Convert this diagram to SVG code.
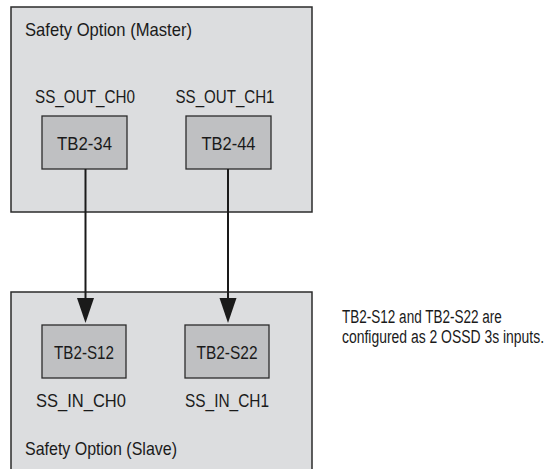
<svg xmlns="http://www.w3.org/2000/svg" width="553" height="469" viewBox="0 0 553 469">
  <style>
    .outer { fill: #dcdddf; stroke: #2b2b2b; stroke-width: 1.5; }
    .inner { fill: #bfc0c2; stroke: #2b2b2b; stroke-width: 1.3; }
    text { font-family: "Liberation Sans Narrow", "Liberation Sans", Arial, sans-serif; font-size: 19px; fill: #1a1a1a; }
    .c { text-anchor: middle; }
    .conn { stroke: #1a1a1a; stroke-width: 2; fill: none; }
    .head { fill: #1a1a1a; }
  </style>

  <g id="master">
    <rect class="outer" x="11" y="7" width="301" height="205"/>
    <text x="25" y="36" textLength="167" lengthAdjust="spacingAndGlyphs">Safety Option (Master)</text>
  </g>
  <g id="slave">
    <rect class="outer" x="11" y="292" width="301" height="190"/>
    <text x="25" y="455" textLength="152" lengthAdjust="spacingAndGlyphs">Safety Option (Slave)</text>
  </g>

  <g id="tb2-34">
    <text class="c" x="85" y="103" textLength="100" lengthAdjust="spacingAndGlyphs">SS_OUT_CH0</text>
    <rect class="inner" x="42" y="116" width="85" height="53"/>
    <text class="c" x="84.5" y="150" textLength="55" lengthAdjust="spacingAndGlyphs">TB2-34</text>
  </g>
  <g id="tb2-44">
    <text class="c" x="225" y="103" textLength="99" lengthAdjust="spacingAndGlyphs">SS_OUT_CH1</text>
    <rect class="inner" x="186" y="116" width="85" height="53"/>
    <text class="c" x="228.5" y="150" textLength="54" lengthAdjust="spacingAndGlyphs">TB2-44</text>
  </g>
  <g id="tb2-s12">
    <rect class="inner" x="42" y="325" width="84" height="53"/>
    <text class="c" x="84" y="359" textLength="60" lengthAdjust="spacingAndGlyphs">TB2-S12</text>
    <text class="c" x="81" y="407" textLength="90" lengthAdjust="spacingAndGlyphs">SS_IN_CH0</text>
  </g>
  <g id="tb2-s22">
    <rect class="inner" x="185" y="325" width="84" height="53"/>
    <text class="c" x="227" y="359" textLength="61" lengthAdjust="spacingAndGlyphs">TB2-S22</text>
    <text class="c" x="227" y="407" textLength="84" lengthAdjust="spacingAndGlyphs">SS_IN_CH1</text>
  </g>

  <g id="note" transform="translate(342,0) scale(0.74,1)">
    <text x="0" y="323" textLength="216" lengthAdjust="spacingAndGlyphs">TB2-S12 and TB2-S22 are</text>
    <text x="0" y="343" textLength="273" lengthAdjust="spacingAndGlyphs">configured as 2 OSSD 3s inputs.</text>
  </g>

  <g id="connectors">
    <line class="conn" x1="85.5" y1="169" x2="85.5" y2="300"/>
    <polygon class="head" points="77,298 94,298 85.5,323"/>
    <line class="conn" x1="228" y1="169" x2="228" y2="300"/>
    <polygon class="head" points="219.5,298 236.5,298 228,323"/>
  </g>
</svg>
